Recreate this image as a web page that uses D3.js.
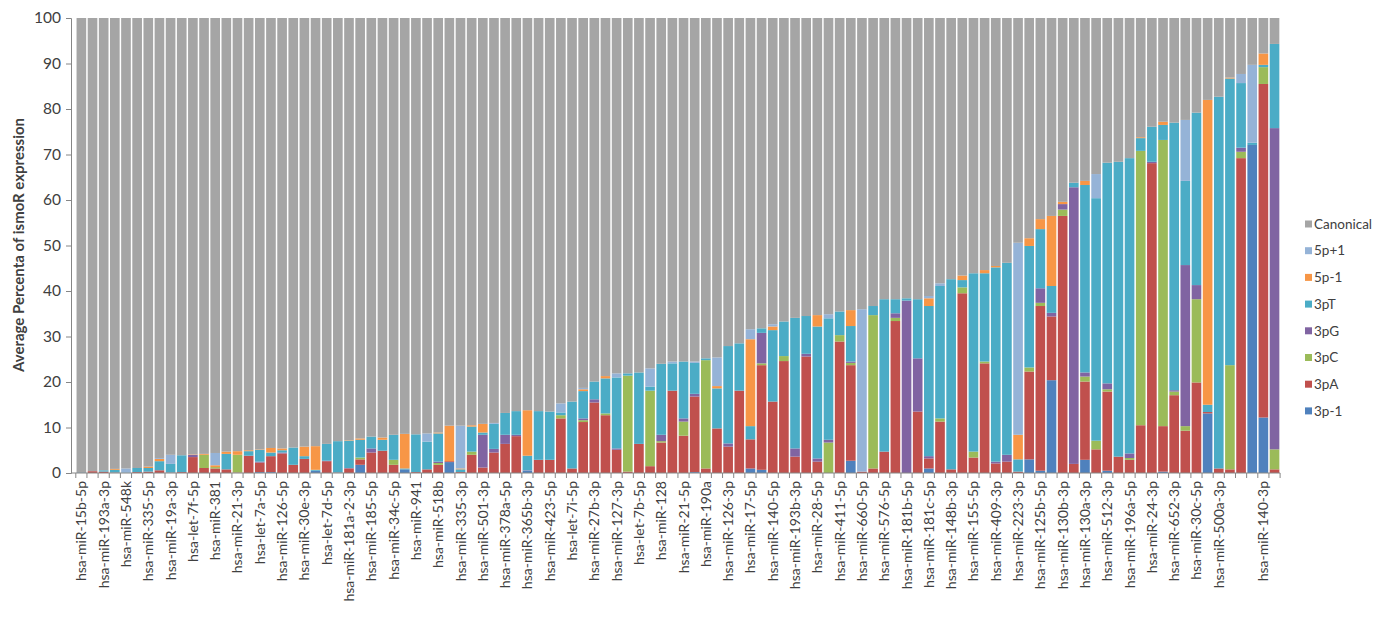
<!DOCTYPE html>
<html lang="en">

<head>
    <meta charset="UTF-8">
    <script src="https://d3js.org/d3.v7.min.js" charset="utf-8"></script>
    <title>isomiR expression</title>
    <style>
        body {
            margin: 0;
            background: white;
        }

        text {
            font-family: Lato, "Open Sans", sans-serif;
            fill: #404040;
        }
    </style>
</head>

<body>
<div class="chart"></div>

<script>
    // tick labels, shown under every other bar (one label near the end could not be read)
    const tickLabels = [
        "hsa-miR-15b-5p", "hsa-miR-193a-3p", "hsa-miR-548k", "hsa-miR-335-5p", "hsa-miR-19a-3p",
        "hsa-let-7f-5p", "hsa-miR-381", "hsa-miR-21-3p", "hsa-let-7a-5p", "hsa-miR-126-5p",
        "hsa-miR-30e-3p", "hsa-let-7d-5p", "hsa-miR-181a-2-3p", "hsa-miR-185-5p", "hsa-miR-34c-5p",
        "hsa-miR-941", "hsa-miR-518b", "hsa-miR-335-3p", "hsa-miR-501-3p", "hsa-miR-378a-5p",
        "hsa-miR-365b-3p", "hsa-miR-423-5p", "hsa-let-7i-5p", "hsa-miR-27b-3p", "hsa-miR-127-3p",
        "hsa-let-7b-5p", "hsa-miR-128", "hsa-miR-21-5p", "hsa-miR-190a", "hsa-miR-126-3p",
        "hsa-miR-17-5p", "hsa-miR-140-5p", "hsa-miR-193b-3p", "hsa-miR-28-5p", "hsa-miR-411-5p",
        "hsa-miR-660-5p", "hsa-miR-576-5p", "hsa-miR-181b-5p", "hsa-miR-181c-5p", "hsa-miR-148b-3p",
        "hsa-miR-155-5p", "hsa-miR-409-3p", "hsa-miR-223-3p", "hsa-miR-125b-5p", "hsa-miR-130b-3p",
        "hsa-miR-130a-3p", "hsa-miR-512-3p", "hsa-miR-196a-5p", "hsa-miR-24-3p", "hsa-miR-652-3p",
        "hsa-miR-30c-5p", "hsa-miR-500a-3p", "", "hsa-miR-140-3p"
    ];

    // series, bottom of the stack first (108 bars each)
    const s3pm1 = [
        0, 0, 0, 0, 0, 0, 0, 0, 0, 0,
        0, 0, 0, 0, 0, 0, 0.2, 0.2, 0, 0,
        0, 0.5, 0, 0, 0, 1.8, 0, 0, 0, 0.8,
        0, 0, 0, 2.4, 0, 0, 0, 0, 0, 0,
        0.5, 0, 0, 0, 0, 0, 0, 0, 0, 0,
        0, 0, 0, 0, 0, 0.2, 0, 0, 0, 0,
        1.0, 0.7, 0, 0, 0, 0, 0, 0, 0, 2.7,
        0, 0, 0, 0, 0, 0, 1.0, 0, 0, 0,
        0, 0, 0, 0, 0, 3.0, 0.5, 20.4, 0, 0,
        2.9, 0, 0.5, 0, 0, 0, 0, 0.3, 0, 0,
        0, 13.1, 0, 0, 0, 72.1, 12.2, 0
    ];
    const s3pA = [
        0.1, 0.4, 0.3, 0.1, 0, 0.2, 0.3, 0.6, 0.1, 0.2,
        3.5, 1.1, 1.0, 0.8, 0.1, 3.8, 2.1, 3.5, 4.3, 1.8,
        3.1, 0, 2.6, 0.1, 1.0, 1.2, 4.5, 4.9, 1.8, 0,
        0.2, 0.8, 1.8, 0.2, 0.2, 4.0, 1.2, 4.5, 6.4, 8.1,
        0, 2.9, 2.9, 12.0, 1.0, 11.2, 15.5, 12.7, 5.1, 0.3,
        6.4, 1.5, 6.7, 18.1, 8.2, 16.6, 1.0, 9.8, 5.8, 18.1,
        6.4, 23.0, 15.7, 24.6, 3.6, 25.6, 2.5, 0, 28.9, 21.0,
        0.3, 1.0, 4.7, 33.4, 0, 13.5, 2.2, 11.3, 0.8, 39.5,
        3.4, 24.1, 2.1, 2.5, 0.3, 19.3, 36.2, 14.0, 56.5, 2.0,
        17.2, 5.2, 17.4, 3.6, 2.9, 10.5, 68.1, 10.0, 17.1, 9.3,
        19.9, 0.3, 1.0, 0.8, 69.2, 0, 73.3, 0.8
    ];
    const s3pC = [
        0, 0, 0, 0, 0, 0, 0, 0, 0, 0,
        0, 2.9, 0.3, 0, 3.9, 0, 0, 0, 0, 0,
        0, 0, 0, 0, 0, 0.4, 0, 0, 1.1, 0,
        0, 0, 0.4, 0, 0, 0.7, 0, 0, 0, 0,
        0, 0, 0, 0.7, 0, 0.4, 0, 0.4, 0, 21.1,
        0, 16.6, 0.3, 0, 3.1, 0, 23.8, 0, 0, 0,
        0, 0.4, 0, 1.1, 0, 0, 0, 6.7, 1.4, 0.5,
        0, 33.7, 0, 0.7, 0, 0, 0, 0.7, 0, 1.3,
        1.3, 0.4, 0, 0, 0, 0.9, 0.7, 0, 1.4, 0,
        1.1, 1.9, 0.5, 0, 0.4, 60.3, 0, 62.9, 0.8, 1.0,
        18.3, 0, 0, 22.9, 1.4, 0, 3.7, 4.4
    ];
    const s3pG = [
        0, 0, 0, 0, 0, 0, 0, 0, 0, 0,
        0.5, 0, 0, 0, 0, 0, 0.2, 0, 0.2, 0,
        0, 0, 0.1, 0, 0.1, 0, 0.9, 0, 0, 0,
        0, 0, 0.3, 0, 0, 0, 7.2, 0.8, 2.0, 0.3,
        0.1, 0, 0, 0, 0, 0.4, 0.7, 0, 0.3, 0,
        0, 0, 1.4, 0, 0.7, 0.6, 0, 0, 0.7, 0,
        0, 6.7, 0, 0, 1.8, 0.6, 0.7, 0.6, 0, 0.3,
        0, 0, 0, 1.0, 37.9, 11.7, 0.5, 0, 0, 0,
        0, 0, 0.4, 1.5, 0, 0, 3.2, 0.8, 1.2, 60.8,
        0.9, 0, 1.3, 0, 1.0, 0, 0.3, 0, 0.3, 35.4,
        3.1, 0, 0, 0, 0.9, 0, 0, 70.6
    ];
    const s3pT = [
        0.1, 0, 0.3, 0.6, 0.1, 0.9, 0.8, 2.0, 1.9, 3.7,
        0, 0, 0, 3.4, 0, 1.0, 2.6, 0.8, 0.5, 3.8,
        0.6, 0.2, 3.7, 6.9, 6.0, 3.9, 2.6, 2.4, 5.5, 0.2,
        8.3, 6.1, 6.2, 0, 0.6, 5.5, 0.5, 5.5, 4.8, 5.2,
        3.2, 10.7, 10.6, 0.6, 14.7, 6.0, 3.9, 7.7, 15.6, 0.5,
        15.7, 0.9, 15.6, 6.0, 12.5, 6.8, 0.4, 8.8, 21.4, 10.4,
        2.9, 1.0, 15.7, 7.6, 28.7, 8.3, 29.0, 26.7, 5.2, 7.8,
        0, 2.0, 33.5, 3.1, 0.5, 13.0, 33.0, 29.1, 41.8, 1.6,
        39.2, 19.4, 42.7, 42.2, 2.7, 26.7, 13.0, 5.9, 0, 1.0,
        41.2, 53.3, 48.5, 64.8, 64.9, 2.8, 7.7, 3.3, 58.8, 18.5,
        37.9, 1.6, 81.7, 63.0, 14.2, 0.5, 0.5, 18.5
    ];
    const s5pm1 = [
        0, 0, 0, 0.2, 0, 0, 0.3, 0.5, 0, 0,
        0.1, 0.2, 0.4, 0.5, 0.8, 0.2, 0.1, 1.0, 0.4, 0,
        2.1, 5.2, 0, 0, 0.1, 0.3, 0, 0.5, 0, 7.6,
        0, 0, 0.2, 7.8, 0.2, 0.3, 1.9, 0, 0, 0,
        10.0, 0, 0, 0, 0, 0.4, 0, 0.5, 0, 0,
        0, 0, 0, 0, 0, 0, 0, 0.5, 0, 0,
        19.1, 0, 0.8, 0, 0, 0, 2.5, 0, 0, 3.5,
        0, 0, 0, 0, 0, 0, 1.7, 0, 0, 1.0,
        0, 0.7, 0.3, 0, 5.4, 1.7, 2.2, 15.4, 0.5, 0,
        0.9, 0, 0, 0, 0, 0.2, 0, 0.7, 0, 0,
        0, 67.0, 0, 0.2, 0, 0, 2.5, 0
    ];
    const s5pp1 = [
        0, 0, 0, 0, 0.9, 0, 0, 0.2, 2.0, 0,
        0, 0, 2.7, 0, 0, 0, 0, 0, 0, 0,
        0, 0, 0, 0, 0, 0, 0, 0, 0, 0,
        0, 1.8, 0, 0, 9.4, 0, 0, 0.2, 0, 0,
        0, 0, 0, 2.0, 0, 0.3, 0, 0, 0.9, 0,
        0, 4.0, 0, 0.4, 0, 0.3, 0, 6.3, 0, 0,
        2.2, 0, 0.5, 0, 0, 0, 0, 0.9, 0, 0,
        35.7, 0, 0, 0, 0, 0, 0.5, 0.6, 0, 0,
        0, 0, 0, 0, 42.2, 0, 0, 0, 0, 0,
        0, 5.3, 0, 0, 0, 0, 0, 0, 0, 13.4,
        0, 0, 0, 0, 2.0, 17.1, 0, 0
    ];
    const sCanonical = [
        99.8, 99.6, 99.4, 99.1, 99.0, 98.9, 98.6, 96.7, 96.0, 96.1,
        95.9, 95.8, 95.6, 95.3, 95.2, 95.0, 94.8, 94.5, 94.6, 94.4,
        94.2, 94.1, 93.6, 93.0, 92.8, 92.4, 92.0, 92.2, 91.6, 91.4,
        91.5, 91.3, 91.1, 89.6, 89.6, 89.5, 89.2, 89.0, 86.8, 86.4,
        86.2, 86.4, 86.5, 84.7, 84.3, 81.3, 79.9, 78.7, 78.1, 78.1,
        77.9, 77.0, 76.0, 75.5, 75.5, 75.5, 74.8, 74.6, 72.1, 71.5,
        68.4, 68.2, 67.3, 66.7, 65.9, 65.5, 65.3, 65.1, 64.5, 64.2,
        64.0, 63.3, 61.8, 61.8, 61.6, 61.8, 61.1, 58.3, 57.4, 56.6,
        56.1, 55.4, 54.5, 53.8, 49.4, 48.4, 44.2, 43.5, 40.4, 36.2,
        35.8, 34.3, 31.8, 31.6, 30.8, 26.2, 23.9, 22.8, 23.0, 22.4,
        20.8, 18.0, 17.3, 13.1, 12.3, 10.3, 7.8, 5.7
    ];

    const seriesNames = ["3p-1", "3pA", "3pC", "3pG", "3pT", "5p-1", "5p+1", "Canonical"];
    const seriesColors = ["#4f81bd", "#c0504d", "#9bbb59", "#8064a2", "#4bacc6", "#f79646", "#95b3d7", "#a5a5a5"];
    const seriesValues = [s3pm1, s3pA, s3pC, s3pG, s3pT, s5pm1, s5pp1, sCanonical];

    const width = 1376;
    const height = 624;

    const svg = d3.select(".chart").append("svg")
        .attr("width", width)
        .attr("height", height);

    const nBars = sCanonical.length;
    const rows = d3.range(nBars).map(i => {
        const row = {i: i};
        seriesNames.forEach((name, k) => row[name] = seriesValues[k][i]);
        return row;
    });
    const stacked = d3.stack().keys(seriesNames)(rows);

    const x = d3.scaleBand()
        .domain(d3.range(nBars))
        .range([75.8, 1280.1])
        .paddingInner(0.135)
        .paddingOuter(0.0675);

    const y = d3.scaleLinear()
        .domain([0, 100])
        .range([473, 18]);

    const color = d3.scaleOrdinal().domain(seriesNames).range(seriesColors);

    // bars
    svg.append("g")
        .selectAll("g")
        .data(stacked)
        .join("g")
        .attr("fill", d => color(d.key))
        .selectAll("rect")
        .data(d => d)
        .join("rect")
        .attr("x", d => x(d.data.i))
        .attr("width", x.bandwidth())
        .attr("y", d => y(d[1]))
        .attr("height", d => Math.max(0, y(d[0]) - y(d[1])));

    // y axis
    const yAxis = svg.append("g")
        .attr("transform", "translate(71,0)")
        .call(d3.axisLeft(y).tickValues(d3.range(0, 101, 10)).tickSize(5).tickPadding(5));
    yAxis.select(".domain").attr("stroke", "#868686");
    yAxis.selectAll(".tick line").attr("stroke", "#868686");
    yAxis.selectAll(".tick text")
        .attr("font-family", "Lato, sans-serif")
        .attr("font-size", 15.5)
        .attr("fill", "#404040");

    // x axis: line, boundary ticks, labels on odd bars
    const step = x.step();
    const x0 = x.range()[0];
    svg.append("line")
        .attr("x1", 71).attr("x2", x.range()[1])
        .attr("y1", y(0)).attr("y2", y(0))
        .attr("stroke", "#868686");
    svg.append("g")
        .selectAll("line")
        .data(d3.range(nBars + 1))
        .join("line")
        .attr("x1", i => x0 + i * step)
        .attr("x2", i => x0 + i * step)
        .attr("y1", y(0))
        .attr("y2", y(0) + 5)
        .attr("stroke", "#868686");

    svg.append("g")
        .selectAll("text")
        .data(tickLabels)
        .join("text")
        .attr("transform", (d, k) => `translate(${x(2 * k) + x.bandwidth() / 2 + 5},481) rotate(-90)`)
        .attr("text-anchor", "end")
        .attr("font-size", 14)
        .text(d => d);

    // y title
    svg.append("text")
        .attr("transform", "translate(24,245) rotate(-90)")
        .attr("text-anchor", "middle")
        .attr("font-size", 15)
        .attr("font-weight", "bold")
        .attr("fill", "#000")
        .text("Average Percenta of ismoR expression");

    // legend, top entry is the top of the stack
    const legend = svg.append("g")
        .selectAll("g")
        .data(seriesNames.slice().reverse())
        .join("g")
        .attr("transform", (d, k) => `translate(1305,${224 + k * 26.7})`);
    legend.append("rect")
        .attr("x", 0).attr("y", -3.5)
        .attr("width", 7).attr("height", 7)
        .attr("fill", d => color(d));
    legend.append("text")
        .attr("x", 9)
        .attr("dy", "0.35em")
        .attr("font-size", 13.5)
        .text(d => d);
</script>
</body>

</html>
